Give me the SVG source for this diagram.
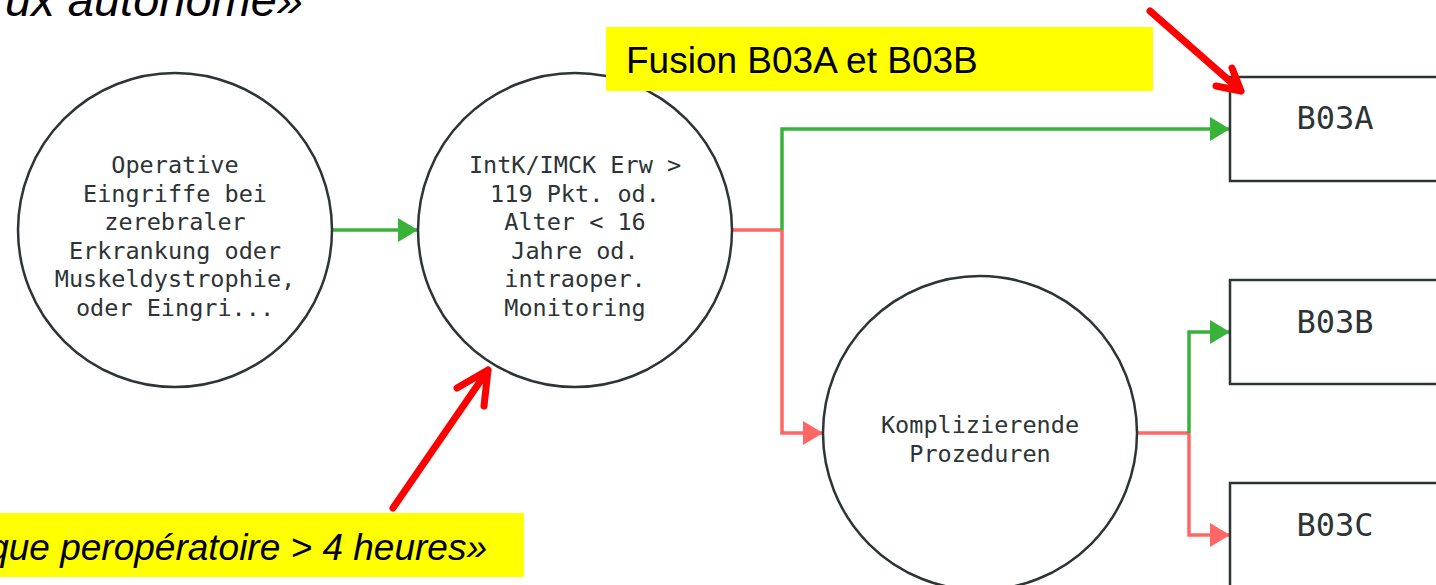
<svg xmlns="http://www.w3.org/2000/svg" width="1436" height="585" viewBox="0 0 1436 585">
<style>
.node{fill:#fff;stroke:#2d3436;stroke-width:2.5}
.nt{font-family:"DejaVu Sans Mono","Liberation Mono",monospace;font-size:23.5px;fill:#2d3436;text-anchor:middle}
.bt{font-family:"DejaVu Sans Mono","Liberation Mono",monospace;font-size:32px;fill:#2d3436;text-anchor:middle}
.g{fill:none;stroke:#38b238;stroke-width:3.5}
.r{fill:none;stroke:#ff6666;stroke-width:3.5}
.ann{fill:none;stroke:#ff0000;stroke-width:7;stroke-linecap:round;stroke-linejoin:round}
.lbl{font-family:"Liberation Sans",Arial,sans-serif;font-size:37px;fill:#000}
</style>
<defs>
<marker id="ag" markerUnits="userSpaceOnUse" markerWidth="22" markerHeight="26" viewBox="0 0 22 26" refX="20" refY="12" orient="auto"><path d="M0,0 L20,12 L0,24 Z" fill="#38b238"/></marker>
<marker id="ar" markerUnits="userSpaceOnUse" markerWidth="22" markerHeight="26" viewBox="0 0 22 26" refX="20" refY="12" orient="auto"><path d="M0,0 L20,12 L0,24 Z" fill="#ff6666"/></marker>
</defs>
<rect width="1436" height="585" fill="#fff"/>
<g id="connectors">
<path class="g" d="M332,230 H418" marker-end="url(#ag)"/>
<path class="r" d="M732,230 H782"/>
<path class="g" d="M782,230 V129 H1230" marker-end="url(#ag)"/>
<path class="r" d="M782,230 V433 H823" marker-end="url(#ar)"/>
<path class="r" d="M1137,433 H1189"/>
<path class="g" d="M1189,433 V332 H1230" marker-end="url(#ag)"/>
<path class="r" d="M1189,433 V535 H1230" marker-end="url(#ar)"/>
</g>
<g id="n1">
<circle class="node" cx="175" cy="230" r="157"/>
<text class="nt"><tspan x="175" y="173">Operative</tspan><tspan x="175" y="202">Eingriffe bei</tspan><tspan x="175" y="230">zerebraler</tspan><tspan x="175" y="259">Erkrankung oder</tspan><tspan x="175" y="287">Muskeldystrophie,</tspan><tspan x="175" y="316">oder Eingri...</tspan></text>
</g>
<g id="n2">
<circle class="node" cx="575" cy="230" r="157"/>
<text class="nt"><tspan x="575" y="173">IntK/IMCK Erw &gt;</tspan><tspan x="575" y="202">119 Pkt. od.</tspan><tspan x="575" y="230">Alter &lt; 16</tspan><tspan x="575" y="259">Jahre od.</tspan><tspan x="575" y="287">intraoper.</tspan><tspan x="575" y="316">Monitoring</tspan></text>
</g>
<g id="n3">
<circle class="node" cx="980" cy="433" r="157"/>
<text class="nt"><tspan x="980" y="433">Komplizierende</tspan><tspan x="980" y="462">Prozeduren</tspan></text>
</g>
<g id="b03a">
<rect class="node" x="1230" y="77" width="230" height="104"/>
<text class="bt" x="1335" y="129">B03A</text>
</g>
<g id="b03b">
<rect class="node" x="1230" y="280" width="230" height="104"/>
<text class="bt" x="1335" y="333">B03B</text>
</g>
<g id="b03c">
<rect class="node" x="1230" y="483" width="230" height="110"/>
<text class="bt" x="1335" y="536">B03C</text>
</g>
<g id="annotations">
<text class="lbl" x="303" y="16" text-anchor="end" style="font-style:italic;font-size:47px">ux autonome»</text>
<rect x="606" y="27" width="547" height="64" fill="#ffff00"/>
<text class="lbl" x="626" y="73">Fusion B03A et B03B</text>
<rect x="0" y="513" width="524" height="64" fill="#ffff00"/>
<text class="lbl" x="487" y="560" text-anchor="end" style="font-style:italic">que peropératoire &gt; 4 heures»</text>
<path class="ann" d="M393,508 L488,370 M457,388 L488,370 L484,406"/>
<path class="ann" d="M1150,11 L1241,91 M1216,86 L1241,91 L1232,68"/>
</g>
</svg>
